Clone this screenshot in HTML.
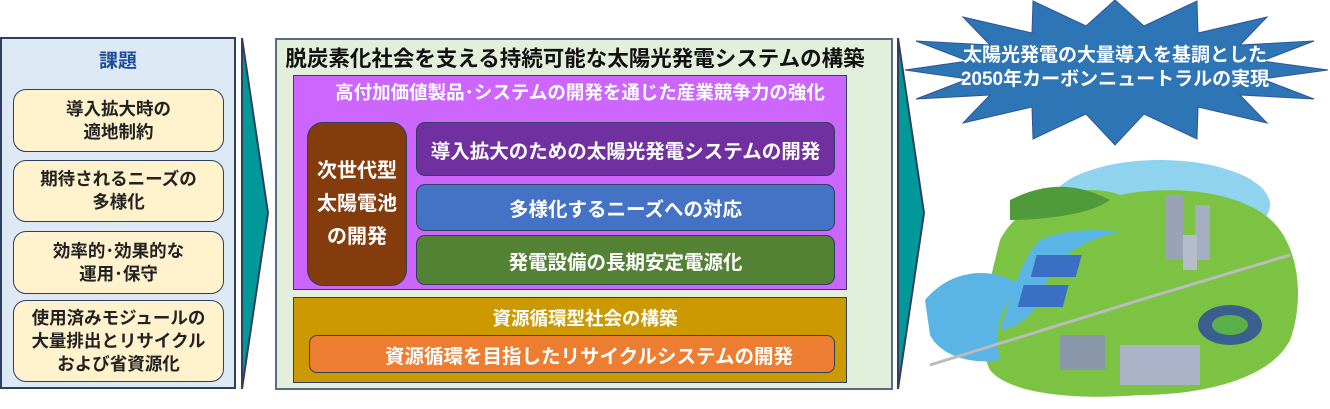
<!DOCTYPE html>
<html><head><meta charset="utf-8"><style>
body{margin:0;width:1330px;height:409px;background:#fff;overflow:hidden;position:relative;font-family:"Liberation Sans","Noto Sans CJK JP",sans-serif;font-weight:bold}
.a{position:absolute;box-sizing:border-box;display:flex;align-items:center;justify-content:center;text-align:center;white-space:nowrap}
.y{background:#fff2cc;border:1.5px solid #2f3f5f;border-radius:13px;font-size:17.5px;line-height:23px;color:#222;left:13px;width:211px}
.w{color:#fff}
</style></head><body>
<div class="a" style="left:0;top:37px;width:236px;height:352px;background:#dde9f5;border:2px solid #2f3f5f"></div>
<div class="a" style="left:0;top:44px;width:236px;height:30px;color:#1f4e9a;font-size:19px">課題</div>
<div class="a y" style="top:89px;height:63px">導入拡大時の<br>適地制約</div>
<div class="a y" style="top:160px;height:62px">期待されるニーズの<br>多様化</div>
<div class="a y" style="top:231px;height:63px">効率的･効果的な<br>運用･保守</div>
<div class="a y" style="top:300px;height:82px">使用済みモジュールの<br>大量排出とリサイクル<br>および省資源化</div>

<svg style="position:absolute;left:0;top:0" width="1330" height="409">
<polygon points="242,38 268,213 242,389" fill="#009999" stroke="#2f3f5f" stroke-width="2"/>
<polygon points="898,38 924,213 898,389" fill="#009999" stroke="#2f3f5f" stroke-width="2"/>
<polygon fill="#2e75b6" stroke="#2f5597" stroke-width="1" points="1328,70 1262,79 1314,99 1240,95 1267,123 1198,107 1197,139 1144,114 1115,145 1086,114 1033,139 1032,107 963,123 990,95 916,99 968,79 905,70 968,61 916,41 990,45 963,17 1032,33 1033,1 1086,26 1115,0 1144,26 1197,1 1198,33 1267,17 1240,45 1314,41 1262,61"/>
<ellipse cx="1160" cy="205" rx="110" ry="45" fill="#8fd3ef"/>
<path d="M1000,240 C1020,200 1080,180 1120,195 C1170,185 1230,190 1265,215 C1300,240 1305,300 1290,340 C1270,380 1200,395 1140,395 C1080,400 1010,395 990,370 C975,340 985,300 1000,240Z" fill="#7cc243"/>
<path d="M1010,200 C1050,180 1080,185 1110,200 C1090,215 1040,220 1010,220Z" fill="#4f9a3a"/>
<path d="M925,300 C950,270 990,265 1020,285 C1010,300 990,320 1000,360 C970,365 940,355 930,335Z" fill="#5ab4e5"/>
<path d="M1040,240 C1060,230 1100,228 1120,232 C1080,240 1050,260 1040,300 C1030,320 1010,330 1000,330 C1010,300 1020,260 1040,240Z" fill="#5ab4e5"/>
<rect x="1165" y="195" width="18" height="65" fill="#9aa3b5"/><rect x="1195" y="205" width="15" height="55" fill="#a5aec0"/><rect x="1183" y="235" width="14" height="35" fill="#b5bdcc"/>
<rect x="1105" y="255" width="45" height="22" fill="#3a6fc4" transform="skewX(-15)"/><rect x="1100" y="285" width="45" height="22" fill="#3a6fc4" transform="skewX(-15)"/>
<ellipse cx="1230" cy="325" rx="32" ry="20" fill="#3a5f8f"/><ellipse cx="1230" cy="325" rx="18" ry="10" fill="#5bb04a"/>
<rect x="1120" y="345" width="80" height="40" fill="#aab3c8"/>
<rect x="1060" y="335" width="45" height="35" fill="#8a96aa"/>
<line x1="930" y1="365" x2="1140" y2="300" stroke="#bbb" stroke-width="3"/>
<line x1="1140" y1="300" x2="1290" y2="255" stroke="#bbb" stroke-width="3"/>
</svg>
<div class="a w" style="left:940px;top:44px;width:350px;height:48px;font-size:19px;line-height:24px">太陽光発電の大量導入を基調とした<br>2050年カーボンニュートラルの実現</div>

<div class="a" style="left:275px;top:38px;width:618px;height:352px;background:#e2efda;border:2px solid #5a6a80"></div>
<div class="a" style="left:275px;top:43px;width:600px;height:28px;font-size:21.5px;color:#111">脱炭素化社会を支える持続可能な太陽光発電システムの構築</div>
<div class="a" style="left:293px;top:75px;width:554px;height:215px;background:#cc66ff;border:1.5px solid #2f3f5f"></div>
<div class="a w" style="left:293px;top:80px;width:574px;height:24px;font-size:18.5px">高付加価値製品･システムの開発を通じた産業競争力の強化</div>
<div class="a w" style="left:307px;top:122px;width:100px;height:164px;background:#843c0c;border:1.5px solid #2f3f5f;border-radius:16px;font-size:20px;line-height:33px">次世代型<br>太陽電池<br>の開発</div>
<div class="a w" style="left:416px;top:122px;width:419px;height:54px;background:#7030a0;border:1.5px solid #2f3f5f;border-radius:9px;font-size:19.5px">導入拡大のための太陽光発電システムの開発</div>
<div class="a w" style="left:416px;top:184px;width:419px;height:47px;background:#4472c4;border:1.5px solid #2f3f5f;border-radius:9px;font-size:19.5px">多様化するニーズへの対応</div>
<div class="a w" style="left:416px;top:235px;width:419px;height:50px;background:#548235;border:1.5px solid #2f3f5f;border-radius:9px;font-size:19.5px">発電設備の長期安定電源化</div>
<div class="a" style="left:293px;top:297px;width:554px;height:86px;background:#cc9900;border:1.5px solid #2f3f5f"></div>
<div class="a w" style="left:293px;top:305px;width:584px;height:26px;font-size:18.5px">資源循環型社会の構築</div>
<div class="a w" style="left:309px;top:335px;width:526px;height:38px;background:#ed7d31;border:1.5px solid #2f3f5f;border-radius:8px;font-size:19.5px;justify-content:flex-start;padding-left:75px">資源循環を目指したリサイクルシステムの開発</div>
</body></html>
